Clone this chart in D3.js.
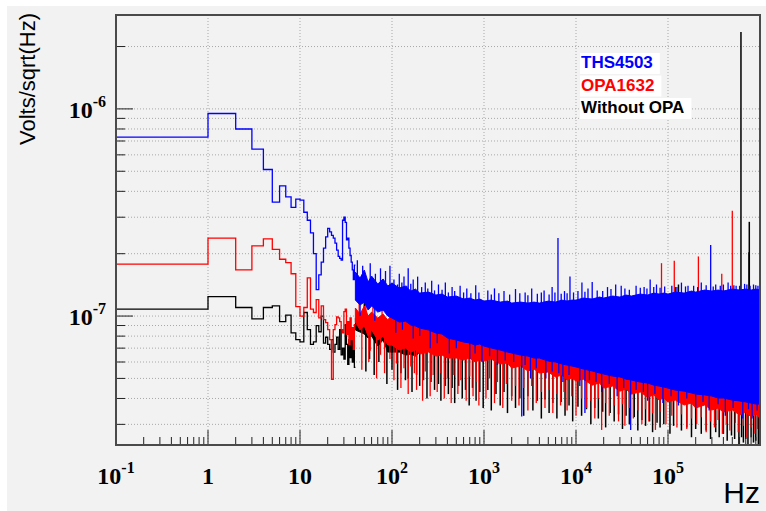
<!DOCTYPE html>
<html lang="en">
  <head>
    <meta charset="utf-8" />
    <title>Noise spectrum</title>
    <style>
      body {
        margin: 0;
        background: #fff;
      }
      svg {
        display: block;
      }
      .grid line {
        stroke: #a8a8a8;
        stroke-dasharray: 1, 2;
      }
      .tick {
        stroke: #222;
        stroke-width: 1;
      }
      .frame {
        fill: none;
        stroke: #4a4a4a;
        stroke-width: 2;
      }
      .num {
        font-family: "Liberation Serif", "Times New Roman", serif;
        font-weight: bold;
        font-size: 24px;
        fill: #000;
      }
      .title {
        font-family: "Liberation Sans", Arial, sans-serif;
        fill: #000;
      }
      .legend {
        font-family: "Liberation Sans", Arial, sans-serif;
        font-weight: bold;
        font-size: 17px;
      }
    </style>
  </head>
  <body>
    <svg width="766" height="511"></svg>

    <script src="https://d3js.org/d3.v7.min.js"></script>
    <script>
      // low frequency bins, 1 Hz wide, bin i = [i, i+1] Hz
      const blueLow = [
        7.3e-7, 9.5e-7, 8.0e-7, 6.4e-7, 5.1e-7, 3.55e-7, 4.25e-7, 3.76e-7, 3.35e-7, 3.67e-7,
        3.63e-7, 3.17e-7, 2.9e-7, 2.52e-7, 2.0e-7, 1.34e-7, 1.58e-7, 1.82e-7, 2.13e-7, 2.41e-7,
        2.65e-7, 2.55e-7, 2.45e-7, 2.38e-7, 2.25e-7, 2.08e-7, 1.94e-7, 1.9e-7, 1.86e-7, 2.9e-7,
        3.0e-7, 2.83e-7, 2.33e-7, 2.38e-7, 2.13e-7, 1.96e-7, 1.82e-7, 1.67e-7, 1.5e-7, 1.76e-7,
      ];
      const redLow = [
        1.78e-7, 2.38e-7, 1.67e-7, 2.18e-7, 2.36e-7, 2.1e-7, 1.88e-7, 1.81e-7, 1.6e-7, 1.11e-7,
        1.0e-7, 1.1e-7, 1.53e-7, 1.08e-7, 1.04e-7, 1.2e-7, 9.8e-8, 1.12e-7, 9.6e-8, 9.3e-8,
        8.6e-8, 7.7e-8, 4.95e-8, 8.6e-8, 9.1e-8, 9.9e-8, 9.8e-8, 9.4e-8, 8.6e-8, 8.3e-8,
        1.05e-7, 1.08e-7, 8.15e-8, 9.4e-8, 7.3e-8, 9.8e-8, 7.7e-8, 8.8e-8, 6.9e-8, 9.1e-8,
      ];
      const blackLow = [
        1.08e-7, 1.24e-7, 1.1e-7, 9.7e-8, 1.1e-7, 1.12e-7, 9.4e-8, 1.01e-7, 8.3e-8, 7.7e-8,
        7.5e-8, 1.04e-7, 8.6e-8, 7.3e-8, 7.5e-8, 9.0e-8, 8.4e-8, 1.0e-7, 7.4e-8, 7.9e-8,
        7.3e-8, 6.9e-8, 7.7e-8, 6.7e-8, 7.3e-8, 7.9e-8, 6.9e-8, 8.6e-8, 6.5e-8, 7.0e-8,
        6.2e-8, 9.1e-8, 7.3e-8, 5.85e-8, 7.7e-8, 6.3e-8, 8.15e-8, 6.0e-8, 7.3e-8, 5.65e-8,
      ];

      // dense part: core of the bins (lower / upper edge) read at these frequencies
      const bandFreq = [
        40, 45, 50, 55, 60, 70, 80, 90,
        100, 120, 140, 160, 180, 200, 250, 300, 350, 400, 500, 600, 700, 800, 900,
        1e3, 1.2e3, 1.5e3, 1.8e3, 2e3, 2.5e3, 3e3, 3.5e3, 4e3, 5e3, 6e3, 7e3, 8e3, 9e3,
        1e4, 1.2e4, 1.5e4, 1.8e4, 2e4, 2.5e4, 3e4, 3.5e4, 4e4, 5e4, 6e4, 7e4, 8e4, 9e4,
        1e5, 1.2e5, 1.5e5, 1.8e5, 2e5, 2.5e5, 3e5, 3.5e5, 4e5, 5e5, 6e5, 7e5, 8e5, 9e5,
        1e6,
      ];
      const blueHi = [
        1.63e-7, 1.525e-7, 1.667e-7, 1.46e-7, 1.56e-7, 1.427e-7, 1.51e-7, 1.395e-7,
        1.443e-7, 1.365e-7, 1.395e-7, 1.32e-7, 1.35e-7, 1.291e-7, 1.305e-7, 1.263e-7, 1.277e-7, 1.235e-7, 1.249e-7, 1.208e-7, 1.221e-7, 1.194e-7, 1.208e-7,
        1.181e-7, 1.194e-7, 1.168e-7, 1.181e-7, 1.155e-7, 1.168e-7, 1.155e-7, 1.168e-7, 1.155e-7, 1.181e-7, 1.168e-7, 1.194e-7, 1.181e-7, 1.194e-7,
        1.194e-7, 1.221e-7, 1.208e-7, 1.235e-7, 1.221e-7, 1.249e-7, 1.235e-7, 1.263e-7, 1.249e-7, 1.277e-7, 1.263e-7, 1.291e-7, 1.277e-7, 1.291e-7,
        1.277e-7, 1.305e-7, 1.291e-7, 1.32e-7, 1.305e-7, 1.335e-7, 1.32e-7, 1.335e-7, 1.32e-7, 1.35e-7, 1.335e-7, 1.35e-7, 1.335e-7, 1.35e-7,
        1.335e-7,
      ];
      const blueLo = [
        1.194e-7, 1.13e-7, 1.168e-7, 1.069e-7, 1.118e-7, 1.045e-7, 1.069e-7, 1.0e-7,
        9.78e-8, 9.35e-8, 9.45e-8, 9.05e-8, 8.95e-8, 8.75e-8, 8.56e-8, 8.28e-8, 8.19e-8, 7.83e-8, 7.66e-8, 7.49e-8, 7.41e-8, 7.24e-8, 7.33e-8,
        7.16e-8, 7.01e-8, 6.85e-8, 6.7e-8, 6.63e-8, 6.48e-8, 6.41e-8, 6.27e-8, 6.27e-8, 6.06e-8, 6.0e-8, 5.87e-8, 5.8e-8, 5.74e-8,
        5.68e-8, 5.55e-8, 5.43e-8, 5.31e-8, 5.25e-8, 5.13e-8, 5.08e-8, 4.96e-8, 4.91e-8, 4.8e-8, 4.75e-8, 4.64e-8, 4.59e-8, 4.54e-8,
        4.49e-8, 4.39e-8, 4.34e-8, 4.25e-8, 4.2e-8, 4.16e-8, 4.11e-8, 4.02e-8, 4.02e-8, 3.93e-8, 3.89e-8, 3.85e-8, 3.8e-8, 3.76e-8,
        3.76e-8,
      ];
      const redHi = [
        1.093e-7, 1.022e-7, 1.118e-7, 1.0e-7, 1.045e-7, 9.78e-8, 1.022e-7, 9.56e-8,
        1.022e-7, 9.56e-8, 9.78e-8, 9.35e-8, 9.35e-8, 9.15e-8, 9.05e-8, 8.85e-8, 8.75e-8, 8.56e-8, 8.37e-8, 8.28e-8, 8.19e-8, 8.0e-8, 8.1e-8,
        8.0e-8, 7.83e-8, 7.66e-8, 7.57e-8, 7.49e-8, 7.33e-8, 7.24e-8, 7.08e-8, 7.08e-8, 6.85e-8, 6.78e-8, 6.63e-8, 6.55e-8, 6.48e-8,
        6.41e-8, 6.27e-8, 6.13e-8, 6.0e-8, 5.93e-8, 5.8e-8, 5.74e-8, 5.61e-8, 5.55e-8, 5.43e-8, 5.37e-8, 5.25e-8, 5.19e-8, 5.13e-8,
        5.08e-8, 4.96e-8, 4.91e-8, 4.8e-8, 4.75e-8, 4.7e-8, 4.64e-8, 4.54e-8, 4.54e-8, 4.44e-8, 4.39e-8, 4.34e-8, 4.3e-8, 4.25e-8,
        4.25e-8,
      ];
      const redLo = [
        9.35e-8, 8.56e-8, 8.95e-8, 8.0e-8, 8.56e-8, 7.66e-8, 8.0e-8, 7.24e-8,
        7.24e-8, 6.85e-8, 7.01e-8, 6.7e-8, 6.85e-8, 6.55e-8, 6.7e-8, 6.41e-8, 6.48e-8, 6.27e-8, 6.27e-8, 6.13e-8, 6.27e-8, 6.0e-8, 6.13e-8,
        6.06e-8, 6.2e-8, 5.87e-8, 5.93e-8, 5.61e-8, 5.74e-8, 5.43e-8, 5.55e-8, 5.31e-8, 5.37e-8, 5.08e-8, 5.19e-8, 4.91e-8, 5.02e-8,
        4.86e-8, 4.96e-8, 4.64e-8, 4.75e-8, 4.49e-8, 4.59e-8, 4.34e-8, 4.44e-8, 4.2e-8, 4.3e-8, 4.06e-8, 4.16e-8, 3.93e-8, 4.02e-8,
        3.85e-8, 3.93e-8, 3.72e-8, 3.8e-8, 3.6e-8, 3.72e-8, 3.52e-8, 3.6e-8, 3.44e-8, 3.52e-8, 3.33e-8, 3.44e-8, 3.26e-8, 3.37e-8,
        3.22e-8,
      ];
      const blackHi = [
        9.78e-8, 9.35e-8, 1.0e-7, 8.95e-8, 9.56e-8, 8.75e-8, 9.15e-8, 8.56e-8,
        9.78e-8, 9.15e-8, 9.35e-8, 8.95e-8, 8.95e-8, 8.75e-8, 8.65e-8, 8.46e-8, 8.37e-8, 8.19e-8, 8.0e-8, 7.92e-8, 7.83e-8, 7.66e-8, 7.74e-8,
        7.66e-8, 7.49e-8, 7.33e-8, 7.24e-8, 7.16e-8, 7.01e-8, 6.93e-8, 6.78e-8, 6.78e-8, 6.55e-8, 6.48e-8, 6.34e-8, 6.27e-8, 6.2e-8,
        6.13e-8, 6.0e-8, 5.87e-8, 5.74e-8, 5.68e-8, 5.55e-8, 5.49e-8, 5.37e-8, 5.31e-8, 5.19e-8, 5.13e-8, 5.02e-8, 4.96e-8, 4.91e-8,
        4.86e-8, 4.75e-8, 4.7e-8, 4.59e-8, 4.54e-8, 4.49e-8, 4.44e-8, 4.34e-8, 4.34e-8, 4.25e-8, 4.2e-8, 4.16e-8, 4.11e-8, 4.06e-8,
        4.06e-8,
      ];
      const blackLo = [
        8.56e-8, 8.37e-8, 8.19e-8, 7.83e-8, 8.0e-8, 7.16e-8, 7.66e-8, 6.7e-8,
        6.7e-8, 6.7e-8, 6.48e-8, 6.55e-8, 6.41e-8, 6.7e-8, 6.9e-8, 6.6e-8, 6.68e-8, 6.46e-8, 6.46e-8, 6.31e-8, 6.46e-8, 6.18e-8, 6.31e-8,
        6.24e-8, 6.39e-8, 6.05e-8, 6.11e-8, 5.78e-8, 5.91e-8, 5.59e-8, 5.72e-8, 5.47e-8, 5.53e-8, 5.23e-8, 5.35e-8, 5.06e-8, 5.17e-8,
        5.0e-8, 5.11e-8, 4.78e-8, 4.89e-8, 4.62e-8, 4.73e-8, 4.47e-8, 4.57e-8, 4.33e-8, 4.43e-8, 4.18e-8, 4.28e-8, 4.05e-8, 4.14e-8,
        3.97e-8, 4.05e-8, 3.83e-8, 3.91e-8, 3.71e-8, 3.83e-8, 3.63e-8, 3.71e-8, 3.54e-8, 3.63e-8, 3.43e-8, 3.54e-8, 3.36e-8, 3.47e-8,
        3.32e-8,
      ];

      // single bins sticking out of the cores [Hz, value]
      const blueSpikes = [
        [42, 1.86e-7], [48, 1.75e-7], [58, 1.8e-7], [66, 1.6e-7], [75, 1.7e-7], [85, 1.65e-7], [95, 1.75e-7],
        [120, 1.6e-7], [135, 1.55e-7], [150, 1.7e-7], [170, 1.5e-7], [190, 1.55e-7], [230, 1.45e-7],
        [270, 1.48e-7], [320, 1.42e-7], [380, 1.45e-7], [450, 1.38e-7], [550, 1.4e-7], [650, 1.36e-7],
        [813, 1.41e-7], [1100, 1.33e-7], [1300, 1.36e-7], [1650, 1.32e-7], [2200, 1.35e-7], [2800, 1.3e-7],
        [3300, 1.36e-7], [4500, 1.33e-7], [5500, 1.38e-7], [6370, 2.38e-7], [7500, 1.32e-7], [8600, 1.55e-7],
        [1.16e4, 1.45e-7], [1.35e4, 1.36e-7], [1.5e4, 1.46e-7], [2.2e4, 1.38e-7], [2.7e4, 1.42e-7],
        [3.1e4, 1.4e-7], [4.5e4, 1.4e-7], [5.5e4, 1.38e-7], [6.4e4, 1.5e-7], [7.5e4, 1.42e-7],
        [1.1e5, 1.4e-7], [1.4e5, 1.45e-7], [1.65e5, 1.4e-7], [2.3e5, 1.45e-7], [2.91e5, 2.2e-7],
        [3.3e5, 1.42e-7], [4.5e5, 1.45e-7], [5.5e5, 1.4e-7], [6.8e5, 1.43e-7], [8.5e5, 1.42e-7], [9.5e5, 1.4e-7],
        [105, 1.5e-7], [115, 1.42e-7], [128, 1.45e-7], [145, 1.4e-7], [160, 1.43e-7], [210, 1.38e-7], [245, 1.36e-7],
        [290, 1.33e-7], [350, 1.34e-7], [410, 1.3e-7], [480, 1.32e-7], [600, 1.3e-7], [720, 1.29e-7], [880, 1.3e-7],
        [1200, 1.27e-7], [1450, 1.29e-7], [1900, 1.27e-7], [2450, 1.29e-7], [3000, 1.26e-7], [3800, 1.28e-7],
        [4200, 1.3e-7], [5100, 1.27e-7], [5900, 1.3e-7], [6900, 1.28e-7], [8000, 1.29e-7], [9400, 1.3e-7],
        [1.05e4, 1.32e-7], [1.25e4, 1.31e-7], [1.7e4, 1.33e-7], [1.95e4, 1.32e-7], [2.4e4, 1.35e-7], [3.4e4, 1.36e-7],
        [3.8e4, 1.34e-7], [5e4, 1.37e-7], [5.9e4, 1.36e-7], [7e4, 1.38e-7], [8.2e4, 1.37e-7], [9.2e4, 1.39e-7],
        [1.25e5, 1.38e-7], [1.55e5, 1.39e-7], [1.9e5, 1.4e-7], [2.1e5, 1.38e-7], [2.6e5, 1.41e-7], [3.1e5, 1.39e-7],
        [3.7e5, 1.4e-7], [4e5, 1.42e-7], [4.8e5, 1.4e-7], [5.2e5, 1.41e-7], [6e5, 1.4e-7], [7.2e5, 1.42e-7],
        [7.8e5, 1.4e-7], [9e5, 1.41e-7],
        [45, 1.0e-7], [65, 9.5e-8], [110, 8.3e-8], [170, 7.8e-8], [260, 7.0e-8], [420, 6.6e-8], [700, 6.2e-8],
        [950, 6.0e-8], [1400, 5.8e-8], [2570, 3.27e-8], [3200, 5.0e-8], [4700, 5.0e-8], [7200, 4.8e-8],
        [1.1e4, 4.6e-8], [1.25e4, 3.4e-8], [1.9e4, 4.3e-8], [2.8e4, 4.1e-8], [3.93e4, 2.82e-8], [6.0e4, 3.9e-8],
        [8.8e4, 3.8e-8], [1.3e5, 3.7e-8], [2.0e5, 3.6e-8], [2.8e5, 3.5e-8], [4.2e5, 3.3e-8], [6.5e5, 3.2e-8], [8.2e5, 3.2e-8],
        [130, 8.6e-8], [200, 8.0e-8], [310, 7.4e-8], [500, 7.0e-8], [800, 6.6e-8], [1150, 6.4e-8], [1700, 6.1e-8],
        [2100, 6.0e-8], [2800, 5.8e-8], [3700, 5.6e-8], [5500, 5.4e-8], [6500, 5.3e-8], [8400, 5.2e-8], [1.4e4, 4.9e-8],
        [1.65e4, 4.8e-8], [2.3e4, 4.7e-8], [3.3e4, 4.5e-8], [4.5e4, 4.4e-8], [5.4e4, 4.3e-8], [7.2e4, 4.2e-8],
        [1.08e5, 4.1e-8], [1.6e5, 4.0e-8], [2.4e5, 3.85e-8], [3.5e5, 3.75e-8], [5.1e5, 3.6e-8], [7.5e5, 3.55e-8], [9.3e5, 3.5e-8],
      ];
      const redSpikes = [
        [44, 1.15e-7], [52, 1.2e-7], [62, 1.1e-7], [78, 1.18e-7], [98, 1.1e-7], [130, 1.05e-7],
        [8.5e4, 1.8e-7], [1.17e5, 1.85e-7], [2.14e5, 1.94e-7], [3.84e5, 1.6e-7], [5.0e5, 3.22e-7],
        [47, 5.5e-8], [56, 6.0e-8], [68, 5.0e-8], [83, 5.3e-8], [105, 4.9e-8], [125, 4.5e-8], [150, 4.2e-8],
        [185, 4.4e-8], [215, 3.9e-8], [260, 4.1e-8], [310, 4.3e-8], [370, 4.0e-8], [440, 3.8e-8], [520, 4.2e-8],
        [640, 3.9e-8], [760, 4.1e-8], [880, 3.7e-8], [1050, 4.0e-8], [1300, 3.8e-8], [1600, 3.6e-8], [2000, 3.9e-8],
        [2400, 3.7e-8], [3000, 3.5e-8], [3700, 3.8e-8], [4600, 3.6e-8], [5600, 3.4e-8], [6800, 3.7e-8], [8000, 3.5e-8],
        [1.0e4, 3.3e-8], [1.3e4, 3.6e-8], [1.6e4, 3.2e-8], [1.9e4, 2.82e-8], [2.3e4, 3.3e-8], [2.9e4, 3.1e-8],
        [3.4e4, 2.95e-8], [4.2e4, 3.2e-8], [5.2e4, 3.0e-8], [6.2e4, 3.1e-8], [7.3e4, 2.82e-8], [9.5e4, 3.0e-8],
        [1.25e5, 2.9e-8], [1.6e5, 2.85e-8], [2.05e5, 3.0e-8], [2.6e5, 2.75e-8], [3.2e5, 2.9e-8], [3.9e5, 2.7e-8],
        [4.7e5, 2.8e-8], [5.8e5, 2.75e-8], [7.2e5, 2.6e-8], [8.8e5, 2.7e-8],
        [58, 6.8e-8], [75, 6.5e-8], [95, 6.2e-8], [112, 5.9e-8], [135, 5.6e-8], [160, 5.7e-8], [175, 5.3e-8],
        [230, 5.4e-8], [280, 5.2e-8], [340, 5.3e-8], [400, 5.0e-8], [470, 5.2e-8], [560, 4.9e-8], [700, 5.1e-8],
        [820, 4.8e-8], [1150, 5.0e-8], [1400, 4.8e-8], [1750, 4.7e-8], [2200, 4.6e-8], [2700, 4.5e-8], [3300, 4.6e-8],
        [4200, 4.3e-8], [5100, 4.4e-8], [6200, 4.2e-8], [7400, 4.3e-8], [9000, 4.1e-8], [1.15e4, 4.0e-8],
        [1.45e4, 3.9e-8], [1.75e4, 4.0e-8], [2.1e4, 3.8e-8], [2.6e4, 3.7e-8], [3.2e4, 3.75e-8], [3.8e4, 3.6e-8],
        [4.7e4, 3.5e-8], [5.7e4, 3.55e-8], [6.8e4, 3.4e-8], [8.2e4, 3.45e-8], [1.1e5, 3.3e-8], [1.4e5, 3.35e-8],
        [1.8e5, 3.2e-8], [2.3e5, 3.25e-8], [2.9e5, 3.1e-8], [3.5e5, 3.15e-8], [4.3e5, 3.0e-8], [5.4e5, 3.05e-8],
        [6.6e5, 2.95e-8], [8e5, 2.9e-8], [9.4e5, 2.85e-8],
      ];
      const blackSpikes = [
        [50, 1.58e-7], [1.2e5, 1.38e-7], [1.3e5, 1.42e-7], [6.21e5, 2.35e-6], [7.6e5, 2.03e-7], [7.65e5, 2.85e-7],
        [52, 5.4e-8], [64, 5.2e-8], [88, 4.7e-8], [115, 4.4e-8], [140, 4.9e-8], [165, 4.3e-8], [200, 4.6e-8],
        [240, 4.0e-8], [290, 4.4e-8], [340, 3.9e-8], [410, 4.2e-8], [480, 3.8e-8], [580, 4.0e-8], [690, 3.7e-8],
        [820, 3.9e-8], [980, 3.6e-8], [1200, 3.5e-8], [1500, 3.7e-8], [1800, 3.4e-8], [2200, 3.6e-8], [2700, 3.3e-8],
        [3400, 3.5e-8], [4200, 3.2e-8], [5100, 3.4e-8], [6200, 3.2e-8], [7600, 3.3e-8], [9200, 3.1e-8],
        [1.15e4, 3.3e-8], [1.45e4, 3.0e-8], [1.75e4, 3.2e-8], [2.1e4, 2.9e-8], [2.6e4, 3.1e-8], [3.2e4, 2.85e-8],
        [3.8e4, 3.0e-8], [4.7e4, 2.8e-8], [5.7e4, 2.95e-8], [6.8e4, 2.75e-8], [8.2e4, 2.9e-8], [1.05e5, 2.7e-8],
        [1.4e5, 2.8e-8], [1.8e5, 2.6e-8], [2.3e5, 2.7e-8], [2.9e5, 2.55e-8], [3.6e5, 2.6e-8], [4.4e5, 2.5e-8],
        [5.3e5, 2.55e-8], [5.9e5, 2.38e-8], [6.6e5, 2.45e-8], [7.4e5, 2.38e-8], [8.5e5, 2.45e-8], [9.6e5, 2.38e-8],
        [57, 6.2e-8], [72, 6.0e-8], [100, 5.5e-8], [125, 5.3e-8], [150, 5.0e-8], [185, 5.2e-8], [220, 4.9e-8],
        [265, 4.8e-8], [320, 4.7e-8], [380, 4.6e-8], [450, 4.5e-8], [530, 4.6e-8], [630, 4.4e-8], [750, 4.5e-8],
        [900, 4.3e-8], [1100, 4.4e-8], [1350, 4.2e-8], [1650, 4.3e-8], [2000, 4.1e-8], [2450, 4.0e-8], [3000, 4.1e-8],
        [3800, 3.9e-8], [4600, 3.95e-8], [5600, 3.8e-8], [6900, 3.85e-8], [8400, 3.7e-8], [1.05e4, 3.65e-8],
        [1.3e4, 3.55e-8], [1.6e4, 3.6e-8], [1.95e4, 3.45e-8], [2.35e4, 3.4e-8], [2.9e4, 3.35e-8], [3.5e4, 3.3e-8],
        [4.3e4, 3.25e-8], [5.2e4, 3.15e-8], [6.3e4, 3.1e-8], [7.6e4, 3.05e-8], [9e4, 3.0e-8], [1.15e5, 2.95e-8],
        [1.6e5, 2.9e-8], [2.0e5, 2.85e-8], [2.6e5, 2.8e-8], [3.3e5, 2.75e-8], [4.0e5, 2.7e-8], [4.9e5, 2.65e-8],
        [6.3e5, 2.6e-8], [7e5, 2.55e-8], [8e5, 2.6e-8], [9e5, 2.5e-8],
      ];

      const xMajor = [0.1, 1, 10, 100, 1e3, 1e4, 1e5];
      const xLabels = [["10", "-1"], ["1", ""], ["10", ""], ["10", "2"], ["10", "3"], ["10", "4"], ["10", "5"]];
      const yMajor = [1e-7, 1e-6];
      const yLabels = [["10", "-7"], ["10", "-6"]];

      const legendNames = ["THS4503", "OPA1632", "Without OPA"];
      const legendColors = ["#0000ff", "#ff0000", "#000000"];

      const width = 766;
      const height = 511;
      const frameL = 116, frameR = 760, frameT = 15, frameB = 445;

      const x = d3.scaleLog().domain([0.1, 1e6]).range([frameL, frameR]);
      const y = d3.scaleLog().domain([2.385e-8, 2.84e-6]).range([frameB, frameT]);

      const svg = d3.select("svg");

      svg.append("rect").attr("width", width).attr("height", height).attr("fill", "#fff");
      svg.append("rect")
        .attr("x", 7).attr("y", 6)
        .attr("width", width - 7).attr("height", height - 6)
        .attr("fill", "#f2f2f2");

      svg.append("clipPath").attr("id", "plotclip")
        .append("rect")
        .attr("x", frameL).attr("y", frameT)
        .attr("width", frameR - frameL).attr("height", frameB - frameT);

      // minor tick values
      const xMinor = [];
      xMajor.forEach((d) => {
        for (let k = 2; k <= 9; k++) if (d * k < 1e6) xMinor.push(d * k);
      });
      const yMinor = [];
      [1e-8, 1e-7, 1e-6].forEach((d) => {
        for (let k = 2; k <= 9; k++) {
          const v = d * k;
          if (v > y.domain()[0] && v < y.domain()[1]) yMinor.push(v);
        }
      });

      // grid
      const grid = svg.append("g").attr("class", "grid");
      grid.selectAll(".gx").data(xMajor.slice(1)).join("line")
        .attr("x1", (d) => x(d)).attr("x2", (d) => x(d))
        .attr("y1", frameT).attr("y2", frameB);
      grid.selectAll(".gy").data(yMajor.concat(yMinor)).join("line")
        .attr("x1", frameL).attr("x2", frameR)
        .attr("y1", (d) => y(d)).attr("y2", (d) => y(d));

      // data
      const plot = svg.append("g").attr("clip-path", "url(#plotclip)");

      const stepLine = d3.line()
        .x((d) => x(d[0]))
        .y((d) => y(d[1]))
        .curve(d3.curveStepAfter);

      const bandArea = d3.area()
        .x((d) => x(d.f))
        .y0((d) => y(d.lo))
        .y1((d) => y(d.hi));

      const series = [
        { color: "#000000", low: blackLow, hi: blackHi, lo: blackLo, spikes: blackSpikes, sw: 1.5 },
        { color: "#ff0000", low: redLow, hi: redHi, lo: redLo, spikes: redSpikes, sw: 1.3 },
        { color: "#0000ff", low: blueLow, hi: blueHi, lo: blueLo, spikes: blueSpikes, sw: 1.3 },
      ];

      const bisect = d3.bisector((d) => d).right;

      series.forEach((s) => {
        const g = plot.append("g");

        const pts = s.low.map((v, i) => [Math.max(i, 0.1), v]);
        pts.push([s.low.length, s.low[s.low.length - 1]]);
        g.append("path")
          .attr("d", stepLine(pts))
          .attr("fill", "none")
          .attr("stroke", s.color)
          .attr("stroke-width", 1.3);

        const rows = bandFreq.map((f, i) => ({ f: f, hi: s.hi[i], lo: s.lo[i] }));
        g.append("path")
          .attr("d", bandArea(rows))
          .attr("fill", s.color)
          .attr("stroke", s.color)
          .attr("stroke-width", 1);

        // each spike starts from the middle of the core at its frequency
        const mid = (f) => {
          const i = Math.max(0, Math.min(bandFreq.length - 1, bisect(bandFreq, f) - 1));
          return Math.sqrt(s.hi[i] * s.lo[i]);
        };
        g.selectAll("line").data(s.spikes).join("line")
          .attr("x1", (d) => x(d[0])).attr("x2", (d) => x(d[0]))
          .attr("y1", (d) => y(mid(d[0]))).attr("y2", (d) => y(d[1]))
          .attr("stroke", s.color)
          .attr("stroke-width", s.sw);
      });

      // ticks, inside the frame
      const ticks = svg.append("g");
      ticks.selectAll(".xM").data(xMajor.slice(1)).join("line").attr("class", "tick")
        .attr("x1", (d) => x(d)).attr("x2", (d) => x(d))
        .attr("y1", frameB).attr("y2", frameB - 15);
      ticks.selectAll(".xm").data(xMinor).join("line").attr("class", "tick")
        .attr("x1", (d) => x(d)).attr("x2", (d) => x(d))
        .attr("y1", frameB).attr("y2", frameB - 8);
      ticks.selectAll(".yM").data(yMajor).join("line").attr("class", "tick")
        .attr("x1", frameL).attr("x2", frameL + 17)
        .attr("y1", (d) => y(d)).attr("y2", (d) => y(d));
      ticks.selectAll(".ym").data(yMinor).join("line").attr("class", "tick")
        .attr("x1", frameL).attr("x2", frameL + 9)
        .attr("y1", (d) => y(d)).attr("y2", (d) => y(d));

      svg.append("rect").attr("class", "frame")
        .attr("x", frameL).attr("y", frameT)
        .attr("width", frameR - frameL).attr("height", frameB - frameT);

      // tick labels, "10" with a raised exponent
      function powerText(t, lab) {
        t.append("tspan").text(lab[0]);
        if (lab[1]) {
          t.append("tspan")
            .attr("font-size", 16)
            .attr("dy", -11)
            .text(lab[1]);
        }
      }

      xMajor.forEach((d, i) => {
        const t = svg.append("text").attr("class", "num")
          .attr("x", x(d)).attr("y", 484)
          .attr("text-anchor", "middle");
        powerText(t, xLabels[i]);
      });
      yMajor.forEach((d, i) => {
        const t = svg.append("text").attr("class", "num")
          .attr("x", 106).attr("y", y(d) + 9)
          .attr("text-anchor", "end");
        powerText(t, yLabels[i]);
      });

      // axis titles
      svg.append("text").attr("class", "title")
        .attr("transform", "translate(35,13) rotate(-90)")
        .attr("text-anchor", "end")
        .attr("font-size", 22)
        .text("Volts/sqrt(Hz)");
      svg.append("text").attr("class", "title")
        .attr("x", frameR).attr("y", 503)
        .attr("text-anchor", "end")
        .attr("font-size", 30)
        .text("Hz");

      // legend
      const legend = svg.append("g").attr("class", "legend");
      legendNames.forEach((name, i) => {
        const row = legend.append("g");
        const box = row.append("rect").attr("fill", "#fff");
        const t = row.append("text")
          .attr("x", 581).attr("y", 68 + i * 22.5)
          .attr("fill", legendColors[i])
          .text(name);
        const bb = t.node().getBBox();
        box.attr("x", bb.x - 1).attr("y", bb.y)
          .attr("width", bb.width + 8).attr("height", bb.height + 2);
      });
    </script>
  </body>
</html>
